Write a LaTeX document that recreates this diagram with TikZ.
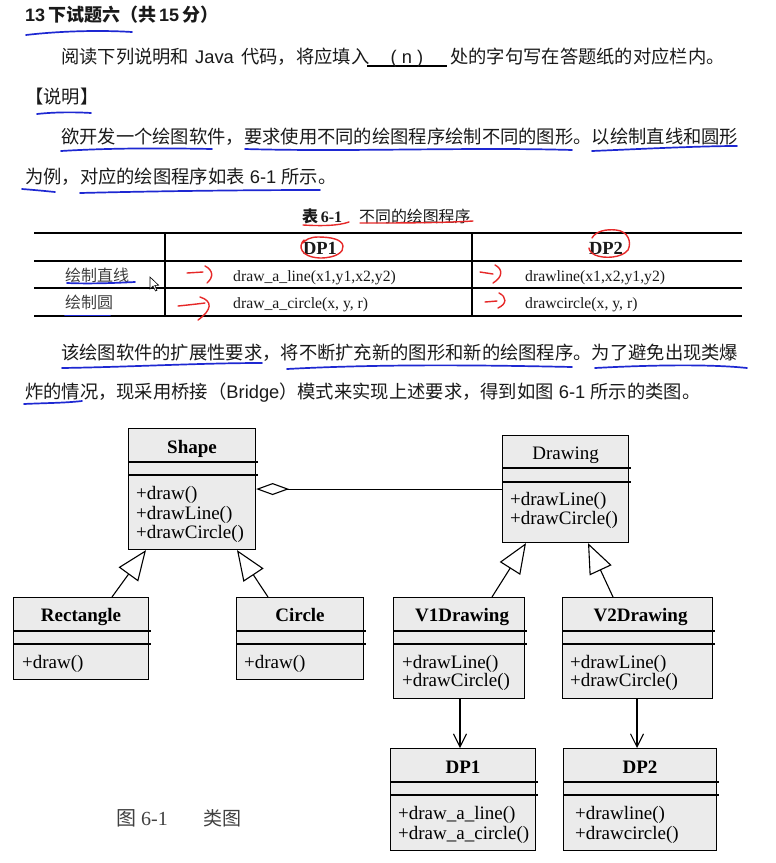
\documentclass[tikz,border=0pt]{standalone}
\usepackage{fontspec}
\setmainfont{Liberation Serif}
\newfontfamily\cjk{Noto Sans CJK SC}
\newfontfamily\arial{Liberation Sans}
\usetikzlibrary{arrows.meta,calc}
\definecolor{boxgray}{HTML}{EBEBEB}
\definecolor{annblue}{HTML}{1E28D2}
\definecolor{annred}{HTML}{E62828}
\definecolor{ink}{HTML}{1A1A1A}
\definecolor{greyink}{HTML}{404040}
\newcommand\fsz[1]{\fontsize{#1}{#1}\selectfont}
\begin{document}
\begin{tikzpicture}[x=1pt,y=-1pt,
  txt/.style={inner sep=0pt, anchor=base west, text=ink},
  ctxt/.style={inner sep=0pt, anchor=base, text=ink},
  cls/.style={draw, line width=1.1pt, fill=boxgray, inner sep=0pt, anchor=north west},
  sepline/.style={line width=1.1pt},
  mth/.style={inner sep=0pt, anchor=base west, font=\fsz{19}},
  nm/.style={inner sep=0pt, anchor=base, font=\fsz{19}\bfseries},
  inh/.style={line width=1.1pt, -{Triangle[open, length=30pt, width=24pt, line width=1.1pt]}},
  agg/.style={line width=1.1pt, -{Diamond[open, length=33pt, width=12pt, line width=1.1pt]}},
  dep/.style={line width=1.1pt, -{Straight Barb[length=13pt, width=13pt, line width=1.1pt]}},
  thickrule/.style={line width=2pt},
  thinrule/.style={line width=1.1pt},
  bluepen/.style={draw=annblue, line width=1.7pt, line cap=round},
  redpen/.style={draw=annred, line width=1.4pt, line cap=round},
]
\useasboundingbox[fill=white] (0,0) rectangle (776,863);

% ---------- text ----------
\node[txt] (title) at (25,21.5) {\fsz{18}\bfseries{\arial 13}\,{\cjk 下试题六（共}{\arial\,15\,}{\cjk 分）}};

\node[txt] (l2a) at (61,63.5) {\fsz{18.3}\cjk 阅读下列说明和};
\node[txt] (l2b) at (195,63.5) {\fsz{18.3}\arial Java};
\node[txt] (l2c) at (241,63.5) {\fsz{18.3}\cjk 代码，将应填入};
\draw[line width=1.2pt] (367,66) -- (447,66);
\node[ctxt] (l2n) at (407,63.5) {\fsz{18.3}\arial ( n )};
\node[txt] (l2d) at (450,63.5) {\fsz{18.3}\cjk 处的字句写在答题纸的对应栏内。};

\node[txt] (l3) at (25,103.5) {\fsz{18.3}\cjk 【说明】};
\node[txt] (l4) at (61,143.6) {\fsz{18.3}\cjk 欲开发一个绘图软件，要求使用不同的绘图程序绘制不同的图形。以绘制直线和圆形};
\node[txt] (l5) at (25,183.6) {\fsz{18.3}{\cjk 为例，对应的绘图程序如表}{\arial\ 6-1\ }{\cjk 所示。}};

% ---------- table ----------
\node[txt] (tcap1) at (302,222.7) {\fsz{16}\bfseries{\cjk 表}\,6-1};
\node[txt] (tcap2) at (359,222.7) {\fsz{15.9}\cjk 不同的绘图程序};

\draw[thickrule] (34,233) -- (742,233);
\draw[thinrule] (34,261) -- (742,261);
\draw[thinrule] (34,288) -- (742,288);
\draw[thickrule] (34,316) -- (742,316);
\draw[thinrule] (165,233) -- (165,316);
\draw[thinrule] (472,233) -- (472,316);

\node[ctxt] (hdp1) at (320,254) {\fsz{18.5}\bfseries DP1};
\node[ctxt] (hdp2) at (606,254) {\fsz{18.5}\bfseries DP2};
\node[txt, text=greyink] (r1a) at (65,281.8) {\fsz{16}\cjk 绘制直线};
\node[txt] (r1b) at (233,281.3) {\fsz{15.7}draw\_a\_line(x1,y1,x2,y2)};
\node[txt] (r1c) at (525,281.3) {\fsz{15.7}drawline(x1,x2,y1,y2)};
\node[txt, text=greyink] (r2a) at (65,308.5) {\fsz{16}\cjk 绘制圆};
\node[txt] (r2b) at (233,308.5) {\fsz{15.7}draw\_a\_circle(x, y, r)};
\node[txt] (r2c) at (525,308.5) {\fsz{15.7}drawcircle(x, y, r)};

% cursor
\draw[line width=0.6pt, fill=white] (150,277) -- (150,289) -- (153,286) -- (155.5,291) -- (157,290.3) -- (154.8,285.4) -- (158.6,285.2) -- cycle;

\node[txt] (l6) at (61,359.6) {\fsz{18.3}\cjk 该绘图软件的扩展性要求，将不断扩充新的图形和新的绘图程序。为了避免出现类爆};
\node[txt] (l7) at (25,398.6) {\fsz{18.3}{\cjk 炸的情况，现采用桥接（}{\arial Bridge}{\cjk ）模式来实现上述要求，得到如图}{\arial\ 6-1\ }{\cjk 所示的类图。}};

% ---------- class diagram ----------
\node[cls, minimum width=127pt, minimum height=121pt] (shape) at (128,428) {};
\node[cls, minimum width=126pt, minimum height=107pt] (drawing) at (502,435) {};
\node[cls, minimum width=135pt, minimum height=82pt] (rect) at (13,597) {};
\node[cls, minimum width=127pt, minimum height=82pt] (circ) at (236,597) {};
\node[cls, minimum width=131pt, minimum height=101pt] (v1) at (393,597) {};
\node[cls, minimum width=150pt, minimum height=101pt] (v2) at (562,597) {};
\node[cls, minimum width=145pt, minimum height=102pt] (dp1) at (390,748) {};
\node[cls, minimum width=153pt, minimum height=102pt] (dp2) at (563,748) {};

\foreach \b/\s/\t in {shape/34/47, drawing/33/47, rect/34/47, circ/34/47, v1/34/47, v2/34/47, dp1/34/47, dp2/34/47}{
  \draw[sepline] ($(\b.north west)+(0,\s)$) -- ($(\b.north east)+(2,\s)$);
  \draw[sepline] ($(\b.north west)+(0,\t)$) -- ($(\b.north east)+(2,\t)$);
}

\node[nm] (shapeN) at ($(shape.north)+(0,25)$) {Shape};
\node[mth] (shapeM1) at ($(shape.north west)+(8,71)$) {+draw()};
\node[mth] (shapeM2) at ($(shape.north west)+(8,91)$) {+drawLine()};
\node[mth] (shapeM3) at ($(shape.north west)+(8,110)$) {+drawCircle()};

\node[nm, font=\fsz{19}] (drawingN) at ($(drawing.north)+(0,24)$) {Drawing};
\node[mth] (drawingM1) at ($(drawing.north west)+(8,70)$) {+drawLine()};
\node[mth] (drawingM2) at ($(drawing.north west)+(8,89)$) {+drawCircle()};

\node[nm] (rectN) at ($(rect.north)+(0,24)$) {Rectangle};
\node[mth] (rectM1) at ($(rect.north west)+(9,71)$) {+draw()};

\node[nm] (circN) at ($(circ.north)+(0,24)$) {Circle};
\node[mth] (circM1) at ($(circ.north west)+(8,71)$) {+draw()};

\node[nm] (v1N) at ($(v1.north)+(3,24)$) {V1Drawing};
\node[mth] (v1M1) at ($(v1.north west)+(9,71)$) {+drawLine()};
\node[mth] (v1M2) at ($(v1.north west)+(9,89)$) {+drawCircle()};

\node[nm] (v2N) at ($(v2.north)+(3,24)$) {V2Drawing};
\node[mth] (v2M1) at ($(v2.north west)+(8,71)$) {+drawLine()};
\node[mth] (v2M2) at ($(v2.north west)+(8,89)$) {+drawCircle()};

\node[nm] (dp1N) at ($(dp1.north)+(0,25)$) {DP1};
\node[mth] (dp1M1) at ($(dp1.north west)+(8,71)$) {+draw\_a\_line()};
\node[mth] (dp1M2) at ($(dp1.north west)+(8,91)$) {+draw\_a\_circle()};

\node[nm] (dp2N) at ($(dp2.north)+(0,25)$) {DP2};
\node[mth] (dp2M1) at ($(dp2.north west)+(12,71)$) {+drawline()};
\node[mth] (dp2M2) at ($(dp2.north west)+(12,91)$) {+drawcircle()};

% connectors
\draw[agg] (drawing.west) -- (shape.east);
\draw[inh] ($(rect.north west)+(99,0)$) -- ($(shape.south west)+(18,0)$);
\draw[inh] ($(circ.north west)+(32,0)$) -- ($(shape.south west)+(109,0)$);
\draw[inh] ($(v1.north west)+(99,0)$) -- ($(drawing.south west)+(24,0)$);
\draw[inh] ($(v2.north west)+(51,0)$) -- ($(drawing.south west)+(86,0)$);
\coordinate (a1) at ($(v1.south west)+(67,0)$);
\coordinate (a2) at ($(v2.south west)+(75,0)$);
\draw[dep] (a1) -- (a1 |- dp1.north);
\draw[dep] (a2) -- (a2 |- dp2.north);

\node[txt, text=greyink] (fc1) at (116,825) {\fsz{20}\cjk 图};
\node[txt, text=greyink] (fc2) at (141,825) {\fsz{20}6-1};
\node[txt, text=greyink] (fc3) at (203,825) {\fsz{19}\cjk 类图};

% ---------- hand annotations ----------
\draw[bluepen] (26,35) .. controls (60,31) and (100,30) .. (132,32);
\draw[bluepen] (37,114) .. controls (55,112) and (75,112) .. (91,113);
\draw[bluepen] (61,151) .. controls (110,148) and (160,148) .. (212,149);
\draw[bluepen] (245,149) .. controls (350,152) and (470,147) .. (572,150);
\draw[bluepen] (592,151) .. controls (640,149) and (700,146) .. (737,146);
\draw[bluepen] (22,189) .. controls (35,190) and (45,191) .. (55,192);
\draw[bluepen] (80,193) .. controls (160,191) and (250,190) .. (320,190);
\draw[bluepen] (67,283) .. controls (90,284) and (115,283) .. (135,282);
\draw[bluepen] (65,315.5) -- (110,315.5);
\draw[bluepen] (62,368) .. controls (130,367) and (200,363) .. (262,363);
\draw[bluepen] (287,369) .. controls (380,364) and (480,365) .. (572,367);
\draw[bluepen] (595,368) .. controls (650,365) and (710,364) .. (747,368);
\draw[bluepen] (24,404) .. controls (45,403) and (65,403) .. (82,401);

\draw[redpen] (303,225) .. controls (320,226) and (338,226) .. (349,222);
\draw[redpen] (360,223) .. controls (400,223) and (440,223) .. (473,221);
\draw[redpen] (304,240) .. controls (298,246) and (300,257) .. (320,258)
  .. controls (336,258) and (344,252) .. (343,246)
  .. controls (342,239) and (330,237) .. (318,237)
  .. controls (310,237) and (305,240) .. (303,243);
\draw[redpen] (592,238) .. controls (596,231) and (606,229) .. (616,230)
  .. controls (628,231) and (632,242) .. (628,250)
  .. controls (622,258) and (604,259) .. (595,255)
  .. controls (591,253) and (589,250) .. (589,248);
\draw[redpen] (187,273) -- (203,272);
\draw[redpen] (205,266) .. controls (213,270) and (214,277) .. (207,283);
\draw[redpen] (178,306) .. controls (188,305) and (197,304) .. (205,303);
\draw[redpen] (200,297) .. controls (213,301) and (212,310) .. (198,320);
\draw[redpen] (480,272) -- (493,274);
\draw[redpen] (495,265) .. controls (503,269) and (503,277) .. (493,283);
\draw[redpen] (485,302) -- (497,301);
\draw[redpen] (499,293) .. controls (507,297) and (507,304) .. (498,308);
\end{tikzpicture}
\end{document}
